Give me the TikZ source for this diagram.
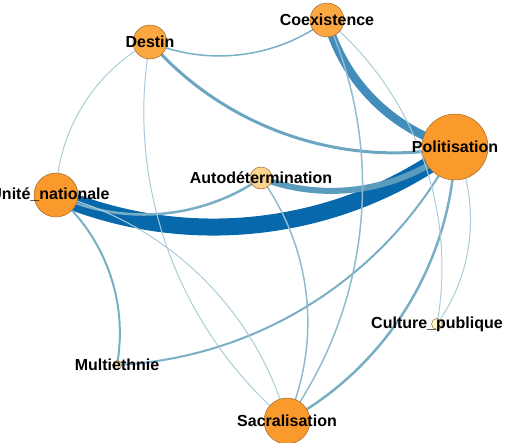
\documentclass[tikz,border=0pt]{standalone}
\usepackage{fontspec}
\setmainfont{Liberation Sans}
\usetikzlibrary{backgrounds}
\definecolor{nodeedge}{HTML}{A0692E}
\definecolor{bigfill}{HTML}{FB9A2C}
\definecolor{midfill}{HTML}{FCA841}
\definecolor{autfill}{HTML}{FDD48E}
\definecolor{palefill}{HTML}{FDF8CC}
\definecolor{cA}{HTML}{0868AC}
\definecolor{cB}{HTML}{438DBC}
\definecolor{cC}{HTML}{5A9BBE}
\definecolor{cD}{HTML}{6CA6C1}
\definecolor{cE}{HTML}{79AFC5}
\definecolor{cF}{HTML}{8EBCCC}
\definecolor{cG}{HTML}{A9CDD8}
\begin{document}
\begin{tikzpicture}[x=1pt,y=-1pt,
  vtx/.style={circle, draw=nodeedge, line width=0.5pt, inner sep=0pt, minimum size=#1},
  lbl/.style={font=\fontsize{16}{18}\selectfont\bfseries, inner sep=0pt, text=black},
  lk/.style={line width=#1, line cap=butt},
  arcr/.style={bend right=30, looseness=0.91},
  arcl/.style={bend left=30, looseness=0.91}]
\useasboundingbox (0,0) rectangle (511,442);
\clip (0,0) rectangle (511,442);
% vertices
\node[vtx=66pt, fill=bigfill] (pol) at (455,147) {};
\node[vtx=46pt, fill=bigfill] (sac) at (287,421) {};
\node[vtx=44pt, fill=bigfill] (uni) at (56,195) {};
\node[vtx=34pt, fill=midfill] (coe) at (327,20) {};
\node[vtx=34pt, fill=midfill] (des) at (150,42) {};
\node[vtx=22pt, fill=autfill] (aut) at (261,178) {};
\node[vtx=11pt, fill=palefill] (cul) at (437,324) {};
\node[vtx=9pt, fill=palefill] (mul) at (117,365) {};
% labels
\node[lbl] (polL) at (pol.center) {Politisation};
\node[lbl] (sacL) at (sac.center) {Sacralisation};
\node[lbl] (uniL) at ([xshift=-6pt]uni.center) {Unité\_nationale};
\node[lbl] (coeL) at (coe.center) {Coexistence};
\node[lbl] (desL) at (des.center) {Destin};
\node[lbl] (autL) at (aut.center) {Autodétermination};
\node[lbl] (culL) at (cul.center) {Culture\_publique};
\node[lbl] (mulL) at (mul.center) {Multiethnie};
% links
\begin{scope}[on background layer]
\draw[lk=17pt, cA] (uni.center) to[arcr] (pol.center);
\draw[lk=8.5pt, cB] (coe.center) to[arcr] (pol.center);
\draw[lk=6pt, cC] (aut.center) to[arcr] (pol.center);
\draw[lk=3pt, cD] (des.center) to[arcr] (pol.center);
\draw[lk=2.5pt, cE] (aut.center) to[arcl] (uni.center);
\draw[lk=2.5pt, cE] (pol.center) to[arcl] (sac.center);
\draw[lk=1.5pt, cE] (des.center) to[arcr] (coe.center);
\draw[lk=2pt, cE] (uni.center) to[arcl] (mul.center);
\draw[lk=2pt, cE] (mul.center) to[arcr] (pol.center);
\draw[lk=1.5pt, cF] (aut.center) to[arcl] (sac.center);
\draw[lk=1.5pt, cF] (coe.center) to[arcl] (sac.center);
\draw[lk=1pt, cG] (des.center) to[arcr] (uni.center);
\draw[lk=1pt, cG] (des.center) to[arcr] (sac.center);
\draw[lk=1pt, cG] (uni.center) to[arcl] (sac.center);
\draw[lk=1pt, cG] (pol.center) to[arcl] (cul.center);
\draw[lk=1pt, cG] (coe.center) to[arcl] (cul.center);
\end{scope}
\end{tikzpicture}
\end{document}
